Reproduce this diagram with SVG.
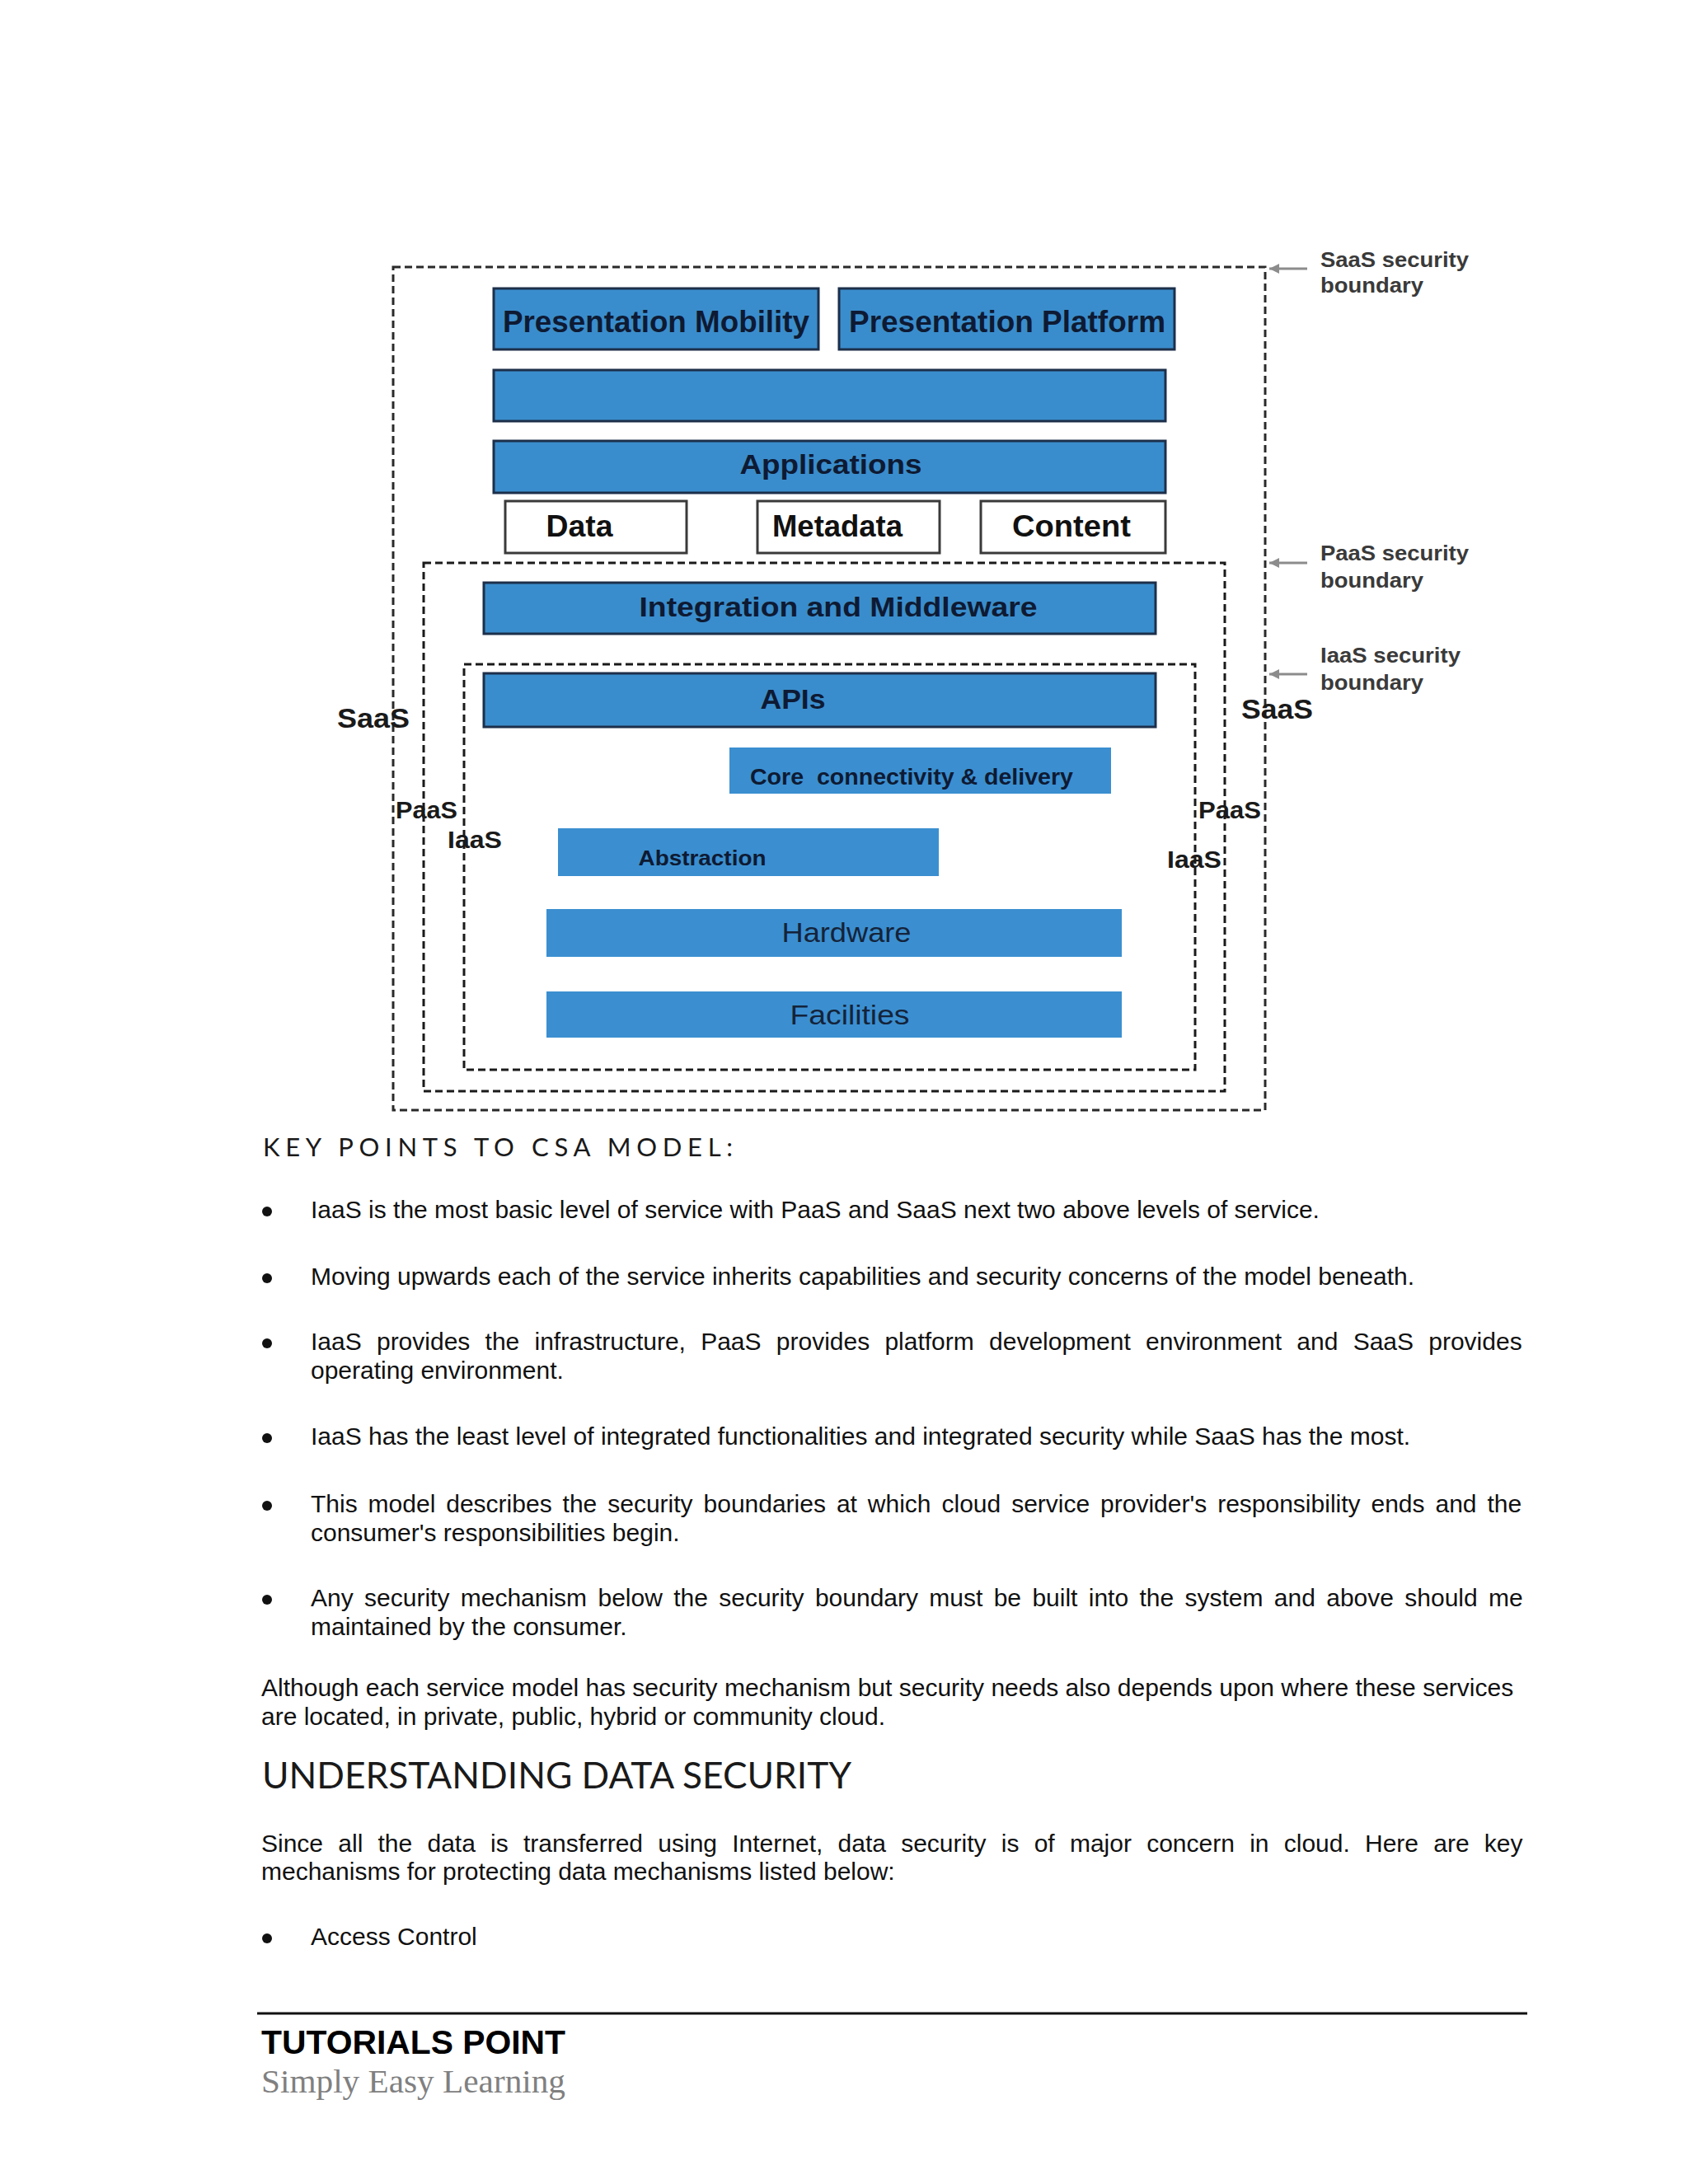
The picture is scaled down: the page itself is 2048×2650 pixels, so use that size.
<svg xmlns="http://www.w3.org/2000/svg" width="2048" height="2650" viewBox="0 0 2048 2650">
<defs>
<style>
.bar{fill:#3a8dcc;stroke:#1c2f4a;stroke-width:3}
.barn{fill:#3b8fd0}
.wbox{fill:#fff;stroke:#3a3a3a;stroke-width:3}
.bnd{fill:none;stroke:#1a1a1a;stroke-width:3;stroke-dasharray:9 5}
.bndo{fill:none;stroke:#2a2a2a;stroke-width:3;stroke-dasharray:9 5}
.lb{font-family:"Liberation Sans",Arial,sans-serif;font-weight:bold;fill:#0e1a33;text-anchor:middle}
.lk{font-family:"Liberation Sans",Arial,sans-serif;font-weight:bold;fill:#111;text-anchor:middle}
.lr{font-family:"Liberation Sans",Arial,sans-serif;fill:#14233a;text-anchor:middle}
.side{font-family:"Liberation Sans",Arial,sans-serif;font-weight:bold;fill:#1a1a1a}
.note{font-family:"Liberation Sans",Arial,sans-serif;font-weight:bold;fill:#3a3a3a;font-size:26px}
.arr{stroke:#8c8c8c;stroke-width:3;fill:none}
.body{font-family:"Liberation Sans",Arial,sans-serif;font-size:30px;fill:#111}
.h{font-family:Lato,"Open Sans",sans-serif;fill:#1a1a1a}
.dot{fill:#111}
</style>
<marker id="ah" viewBox="0 0 10 10" refX="10" refY="5" markerWidth="4.5" markerHeight="4" orient="auto"><path d="M0,0 L10,5 L0,10 z" fill="#8c8c8c"/></marker>
</defs>
<rect width="2048" height="2650" fill="#fff"/>

<!-- boundaries -->
<g id="saas-boundary"><rect class="bndo" x="477" y="324" width="1058" height="1023"/></g>
<g id="paas-boundary"><rect class="bnd" x="514" y="683" width="972" height="641"/></g>
<g id="iaas-boundary"><rect class="bnd" x="563" y="806" width="887" height="492"/></g>

<!-- nodes -->
<g id="presentation-mobility"><rect class="bar" x="599" y="350" width="394" height="74"/><text class="lb" x="796" y="403" font-size="36" textLength="372" lengthAdjust="spacingAndGlyphs">Presentation Mobility</text></g>
<g id="presentation-platform"><rect class="bar" x="1018" y="350" width="407" height="74"/><text class="lb" x="1222" y="403" font-size="36" textLength="384" lengthAdjust="spacingAndGlyphs">Presentation Platform</text></g>
<g id="blank-bar"><rect class="bar" x="599" y="449" width="815" height="62"/></g>
<g id="applications"><rect class="bar" x="599" y="535" width="815" height="63"/><text class="lb" x="1008" y="575" font-size="33" textLength="221" lengthAdjust="spacingAndGlyphs">Applications</text></g>
<g id="data"><rect class="wbox" x="613" y="608" width="220" height="63"/><text class="lk" x="703" y="651" font-size="36" textLength="81" lengthAdjust="spacingAndGlyphs">Data</text></g>
<g id="metadata"><rect class="wbox" x="919" y="608" width="221" height="63"/><text class="lk" x="1016" y="651" font-size="36" textLength="158" lengthAdjust="spacingAndGlyphs">Metadata</text></g>
<g id="content"><rect class="wbox" x="1190" y="608" width="224" height="63"/><text class="lk" x="1300" y="651" font-size="36" textLength="144" lengthAdjust="spacingAndGlyphs">Content</text></g>
<g id="integration"><rect class="bar" x="587" y="707" width="815" height="62"/><text class="lb" x="1017" y="748" font-size="34" textLength="483" lengthAdjust="spacingAndGlyphs">Integration and Middleware</text></g>
<g id="apis"><rect class="bar" x="587" y="817" width="815" height="65"/><text class="lb" x="962" y="860" font-size="33" textLength="79" lengthAdjust="spacingAndGlyphs">APIs</text></g>
<g id="core"><rect class="barn" x="885" y="907" width="463" height="56"/><text class="lb" x="1106" y="952" font-size="28" xml:space="preserve" textLength="392" lengthAdjust="spacingAndGlyphs">Core  connectivity &amp; delivery</text></g>
<g id="abstraction"><rect class="barn" x="677" y="1005" width="462" height="58"/><text class="lb" x="852" y="1050" font-size="26" textLength="155" lengthAdjust="spacingAndGlyphs">Abstraction</text></g>
<g id="hardware"><rect class="barn" x="663" y="1103" width="698" height="58"/><text class="lr" x="1027" y="1143" font-size="34" textLength="157" lengthAdjust="spacingAndGlyphs">Hardware</text></g>
<g id="facilities"><rect class="barn" x="663" y="1203" width="698" height="56"/><text class="lr" x="1031" y="1243" font-size="34" textLength="145" lengthAdjust="spacingAndGlyphs">Facilities</text></g>

<!-- side labels -->
<g id="side-labels">
<text class="side" x="409" y="883" font-size="34" textLength="88" lengthAdjust="spacingAndGlyphs">SaaS</text>
<text class="side" x="480" y="993" font-size="29" textLength="75" lengthAdjust="spacingAndGlyphs">PaaS</text>
<text class="side" x="543" y="1029" font-size="30" textLength="66" lengthAdjust="spacingAndGlyphs">IaaS</text>
<text class="side" x="1506" y="872" font-size="33" textLength="87" lengthAdjust="spacingAndGlyphs">SaaS</text>
<text class="side" x="1454" y="993" font-size="29" textLength="76" lengthAdjust="spacingAndGlyphs">PaaS</text>
<text class="side" x="1416" y="1053" font-size="30" textLength="66" lengthAdjust="spacingAndGlyphs">IaaS</text>
</g>

<!-- boundary notes -->
<g id="notes">
<text class="note" x="1602" y="324" textLength="180" lengthAdjust="spacingAndGlyphs">SaaS security</text>
<text class="note" x="1602" y="355" textLength="125" lengthAdjust="spacingAndGlyphs">boundary</text>
<text class="note" x="1602" y="680" textLength="180" lengthAdjust="spacingAndGlyphs">PaaS security</text>
<text class="note" x="1602" y="713" textLength="125" lengthAdjust="spacingAndGlyphs">boundary</text>
<text class="note" x="1602" y="804" textLength="170" lengthAdjust="spacingAndGlyphs">IaaS security</text>
<text class="note" x="1602" y="837" textLength="125" lengthAdjust="spacingAndGlyphs">boundary</text>
</g>

<!-- connectors -->
<g id="connectors">
<line class="arr" x1="1586" y1="326" x2="1540" y2="326" marker-end="url(#ah)"/>
<line class="arr" x1="1586" y1="683" x2="1540" y2="683" marker-end="url(#ah)"/>
<line class="arr" x1="1586" y1="818" x2="1540" y2="818" marker-end="url(#ah)"/>
</g>

<!-- body text -->
<g id="body">
<text class="h" x="319" y="1403" font-size="31" textLength="570" lengthAdjust="spacing">KEY POINTS TO CSA MODEL:</text>

<circle class="dot" cx="324" cy="1470" r="6"/>
<text class="body" x="377" y="1478">IaaS is the most basic level of service with PaaS and SaaS next two above levels of service.</text>
<circle class="dot" cx="324" cy="1551" r="6"/>
<text class="body" x="377" y="1559">Moving upwards each of the service inherits capabilities and security concerns of the model beneath.</text>
<circle class="dot" cx="324" cy="1630" r="6"/>
<text class="body" x="377" y="1638" word-spacing="9.9">IaaS provides the infrastructure, PaaS provides platform development environment and SaaS provides</text>
<text class="body" x="377" y="1673">operating environment.</text>
<circle class="dot" cx="324" cy="1745" r="6"/>
<text class="body" x="377" y="1753">IaaS has the least level of integrated functionalities and integrated security while SaaS has the most.</text>
<circle class="dot" cx="324" cy="1827" r="6"/>
<text class="body" x="377" y="1835" word-spacing="4.6">This model describes the security boundaries at which cloud service provider's responsibility ends and the</text>
<text class="body" x="377" y="1870">consumer's responsibilities begin.</text>
<circle class="dot" cx="324" cy="1941" r="6"/>
<text class="body" x="377" y="1949" word-spacing="5">Any security mechanism below the security boundary must be built into the system and above should me</text>
<text class="body" x="377" y="1984">maintained by the consumer.</text>

<text class="body" x="317" y="2058">Although each service model has security mechanism but security needs also depends upon where these services</text>
<text class="body" x="317" y="2093">are located, in private, public, hybrid or community cloud.</text>

<text class="h" x="318" y="2170" font-size="45" textLength="715" lengthAdjust="spacingAndGlyphs">UNDERSTANDING DATA SECURITY</text>

<text class="body" x="317" y="2247" word-spacing="9.9">Since all the data is transferred using Internet, data security is of major concern in cloud. Here are key</text>
<text class="body" x="317" y="2281">mechanisms for protecting data mechanisms listed below:</text>

<circle class="dot" cx="324" cy="2352" r="6"/>
<text class="body" x="377" y="2360">Access Control</text>
</g>

<!-- footer -->
<g id="footer">
<line x1="312" y1="2443" x2="1853" y2="2443" stroke="#111" stroke-width="3"/>
<text x="317" y="2492" font-family="'Liberation Sans',Arial,sans-serif" font-weight="bold" font-size="40" fill="#000" textLength="369" lengthAdjust="spacingAndGlyphs">TUTORIALS POINT</text>
<text x="317" y="2539" font-family="'Liberation Serif','Times New Roman',serif" font-size="40" fill="#808080" textLength="369" lengthAdjust="spacingAndGlyphs">Simply Easy Learning</text>
</g>
</svg>
